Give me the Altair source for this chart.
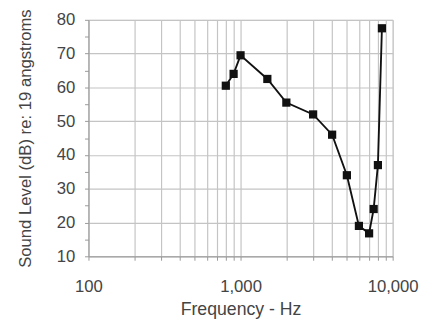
import altair as alt
import pandas as pd

freq = [800, 900, 1000, 1500, 2000, 3000, 4000, 5000, 6000, 7000, 7500, 8000, 8500]
level = [60.5, 64, 69.5, 62.5, 55.5, 52, 46, 34, 19, 16.8, 24, 37, 77.5]

x_ticks = [100, 200, 300, 400, 500, 600, 700, 800, 900,
           1000, 2000, 3000, 4000, 5000, 6000, 7000, 8000, 9000, 10000]
y_ticks = [10, 15, 20, 25, 30, 35, 40, 45, 50, 55, 60, 65, 70, 75, 80]

df = pd.DataFrame({"freq": freq, "level": level})

FONT = "Liberation Sans"
GRID = "#c4c4c4"
TXT = "#444444"

x = alt.X("freq:Q",
          scale=alt.Scale(type="log", domain=[100, 10000], nice=False),
          axis=alt.Axis(values=x_ticks, format=",", title="Frequency - Hz",
                        labelExpr="(datum.value == 100 || datum.value == 1000 || datum.value == 10000) ? datum.label : ''",
                        grid=True, gridColor=GRID, gridWidth=1.2,
                        domainColor="#999999", tickColor="#999999", tickSize=4,
                        labelFont=FONT, labelFontSize=17, labelColor=TXT, labelPadding=19,
                        titleFont=FONT, titleFontSize=18, titleColor=TXT, titleFontWeight="normal",
                        titlePadding=6, labelFlush=False, labelOverlap=False))
y = alt.Y("level:Q",
          scale=alt.Scale(domain=[10, 80], nice=False, zero=False),
          axis=alt.Axis(values=y_ticks, title="Sound Level (dB) re: 19 angstroms",
                        labelExpr="datum.value % 10 === 0 ? datum.label : ''",
                        grid=True, gridColor=GRID, gridWidth=1.2,
                        gridOpacity={"condition": {"test": "datum.value % 10 === 0", "value": 1}, "value": 0},
                        domainColor="#999999", tickColor="#999999", tickSize=4,
                        labelFont=FONT, labelFontSize=17, labelColor=TXT, labelPadding=10,
                        titleFont=FONT, titleFontSize=17, titleColor=TXT, titleFontWeight="normal",
                        titlePadding=22, labelOverlap=False))

line = alt.Chart(df).mark_line(color="#111111", strokeWidth=1.9).encode(x=x, y=y)
pts = alt.Chart(df).mark_point(shape="square", filled=True, color="#111111", size=70, opacity=1).encode(x=x, y=y)

chart = (line + pts).properties(
    width=310, height=241,
    autosize=alt.AutoSizeParams(type="none"),
    padding={"left": 82, "top": 9, "right": 35, "bottom": 70},
).configure_view(stroke=GRID, strokeWidth=1.2).configure(background="white")

chart.save("out.html", embed_options={"renderer": "svg", "actions": False})
